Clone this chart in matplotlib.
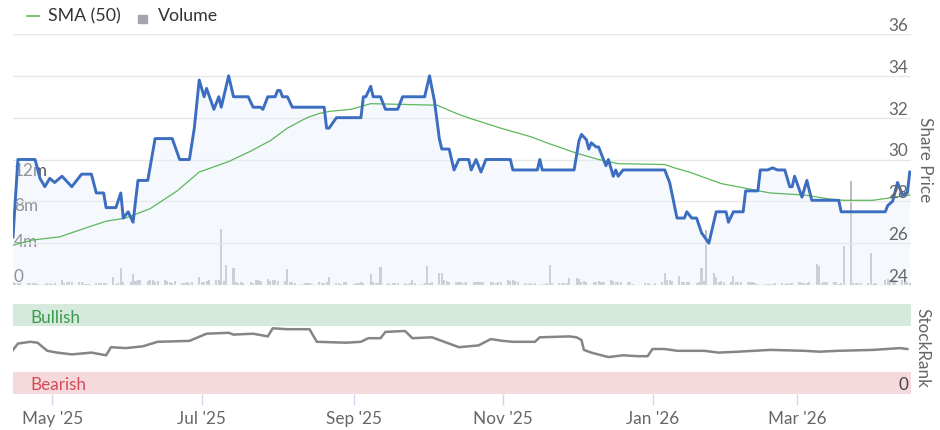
import matplotlib
matplotlib.use('Agg')
import matplotlib.pyplot as plt
import matplotlib.dates as mdates
import pandas as pd
from matplotlib.lines import Line2D
from matplotlib.patches import Rectangle

plt.rcParams['font.family'] = ['Lato', 'DejaVu Sans']

# share price, vertices of the line
price_dates = [
    '2025-04-15', '2025-04-17', '2025-04-24', '2025-04-26', '2025-04-28', '2025-04-30',
    '2025-05-02', '2025-05-05', '2025-05-09', '2025-05-13', '2025-05-17', '2025-05-19',
    '2025-05-22', '2025-05-23', '2025-05-27', '2025-05-29', '2025-05-30', '2025-06-01',
    '2025-06-03', '2025-06-05', '2025-06-09', '2025-06-12', '2025-06-19', '2025-06-22',
    '2025-06-26', '2025-06-28', '2025-06-30', '2025-07-02', '2025-07-03', '2025-07-06',
    '2025-07-08', '2025-07-09', '2025-07-12', '2025-07-14', '2025-07-20', '2025-07-22',
    '2025-07-25', '2025-07-26', '2025-07-28', '2025-07-31', '2025-08-01', '2025-08-02',
    '2025-08-03', '2025-08-05', '2025-08-07', '2025-08-20', '2025-08-21', '2025-08-22',
    '2025-08-25', '2025-09-04', '2025-09-05', '2025-09-06', '2025-09-08', '2025-09-09',
    '2025-09-12', '2025-09-14', '2025-09-19', '2025-09-21', '2025-09-30', '2025-10-02',
    '2025-10-04', '2025-10-06', '2025-10-07', '2025-10-10', '2025-10-12', '2025-10-14',
    '2025-10-18', '2025-10-19', '2025-10-21', '2025-10-23', '2025-10-25', '2025-11-04',
    '2025-11-05', '2025-11-15', '2025-11-16', '2025-11-17', '2025-11-30', '2025-12-02',
    '2025-12-03', '2025-12-05', '2025-12-06', '2025-12-07', '2025-12-09', '2025-12-10',
    '2025-12-13', '2025-12-14', '2025-12-16', '2025-12-17', '2025-12-18', '2025-12-20',
    '2026-01-06', '2026-01-08', '2026-01-11', '2026-01-14', '2026-01-15', '2026-01-17',
    '2026-01-19', '2026-01-21', '2026-01-24', '2026-01-27', '2026-01-31', '2026-02-01',
    '2026-02-03', '2026-02-07', '2026-02-08', '2026-02-13', '2026-02-14', '2026-02-17',
    '2026-02-19', '2026-02-21', '2026-02-24', '2026-02-26', '2026-02-27', '2026-02-28',
    '2026-03-03', '2026-03-05', '2026-03-07', '2026-03-18', '2026-03-19', '2026-04-06',
    '2026-04-07', '2026-04-09', '2026-04-11', '2026-04-13', '2026-04-15', '2026-04-16',
]
price_values = [
    26.3, 30.0, 30.0, 29.1, 28.7, 29.1,
    28.9, 29.2, 28.7, 29.3, 29.3, 28.4,
    28.4, 27.7, 27.7, 28.4, 27.2, 27.5,
    27.0, 29.0, 29.0, 31.0, 31.0, 30.0,
    30.0, 31.5, 33.8, 33.0, 33.4, 32.4,
    33.0, 32.5, 34.0, 33.0, 33.0, 32.5,
    32.5, 32.4, 33.0, 33.0, 33.3, 33.3,
    33.0, 33.0, 32.5, 32.5, 31.5, 31.5,
    32.0, 32.0, 33.0, 33.0, 33.5, 33.0,
    33.0, 32.4, 32.4, 33.0, 33.0, 34.0,
    32.8, 31.0, 30.5, 30.5, 29.5, 30.0,
    30.0, 29.5, 30.0, 29.4, 30.0, 30.0,
    29.5, 29.5, 30.0, 29.5, 29.5, 30.9,
    31.2, 30.95, 30.5, 30.8, 30.6, 30.6,
    29.7, 30.0, 29.2, 29.5, 29.2, 29.5,
    29.5, 28.9, 27.2, 27.2, 27.5, 27.2,
    27.2, 26.5, 26.0, 27.5, 27.5, 27.0,
    27.5, 27.5, 28.5, 28.5, 29.5, 29.5,
    29.6, 29.5, 29.5, 28.7, 28.7, 29.2,
    28.2, 29.0, 28.05, 28.05, 27.5, 27.5,
    27.8, 28.0, 28.9, 28.3, 28.4, 29.4,
]

# 50 day simple moving average
sma_dates = [
    '2025-04-15', '2025-04-23', '2025-05-04', '2025-05-14', '2025-05-23', '2025-05-31',
    '2025-06-10', '2025-06-21', '2025-06-30', '2025-07-12', '2025-07-21', '2025-07-29',
    '2025-08-05', '2025-08-13', '2025-08-18', '2025-08-22', '2025-08-31', '2025-09-08',
    '2025-10-03', '2025-10-05', '2025-10-13', '2025-10-19', '2025-10-31', '2025-11-12',
    '2025-11-20', '2025-12-01', '2025-12-10', '2025-12-18', '2026-01-06', '2026-01-10',
    '2026-01-16', '2026-01-29', '2026-02-09', '2026-02-18', '2026-03-04', '2026-03-15',
    '2026-03-20', '2026-04-01', '2026-04-13', '2026-04-16',
]
sma_values = [
    25.9, 26.15, 26.3, 26.7, 27.05, 27.2,
    27.65, 28.5, 29.4, 29.9, 30.4, 30.9,
    31.5, 32.0, 32.2, 32.3, 32.4, 32.67,
    32.6, 32.6, 32.2, 31.95, 31.5, 31.1,
    30.75, 30.3, 30.0, 29.8, 29.76, 29.6,
    29.4, 28.85, 28.6, 28.4, 28.3, 28.1,
    28.05, 28.05, 28.25, 28.3,
]

# daily volume (millions), one row per week starting Tue 15 Apr 2025
volume = [
    0.3, 0.2, 0.2, 0.2,
    0.2, 0.25, 0.2, 0.2, 0.15,
    0.15, 0.2, 0.2, 0.15, 0.2,
    0.56, 0.2, 0.3, 0.35, 0.3,
    0.3, 0.3, 0.1, 0.1, 0.15,
    0.2, 0.2, 0.2, 0.25, 0.2,
    0.9, 0.15, 0.2, 1.9, 0.35,
    0.3, 1.2, 0.5, 0.6, 0.6,
    0.5, 0.6, 0.55, 0.3, 0.5,
    0.55, 0.45, 0.3, 0.25, 0.5,
    0.2, 0.2, 0.3, 0.25, 0.3,
    0.9, 0.35, 0.3, 0.5, 0.55,
    0.55, 0.6, 6.3, 0.4, 2.2,
    1.9, 0.3, 0.25, 0.3, 0.2,
    0.3, 0.25, 0.55, 0.6, 0.45,
    0.65, 0.5, 0.6, 0.55, 0.5,
    0.5, 1.8, 0.3, 0.35, 0.2,
    0.1, 0.2, 0.25, 0.2, 0.15,
    0.3, 0.25, 0.2, 0.3, 0.9,
    0.2, 0.25, 0.15, 0.35, 0.3,
    0.15, 0.2, 0.25, 0.3, 0.2,
    1.2, 0.3, 0.2, 0.25, 2.0,
    0.2, 0.15, 0.2, 0.25, 0.2,
    0.2, 0.15, 0.2, 0.6, 0.2,
    0.15, 0.2, 2.1, 0.25, 0.3,
    1.3, 1.3, 0.6, 0.4, 0.35,
    0.35, 0.3, 0.3, 0.2, 0.35,
    0.3, 0.35, 0.35, 0.3, 0.35,
    0.3, 0.35, 0.2, 0.3, 0.35,
    0.55, 0.5, 0.55, 0.45, 0.3,
    0.2, 0.15, 0.2, 0.15, 0.2,
    0.1, 0.15, 0.2, 2.25, 0.2,
    0.2, 0.2, 0.2, 0.2, 0.75,
    0.75, 0.7, 0.35, 0.4, 0.35,
    0.3, 0.35, 0.4, 0.35, 0.3,
    0.55, 0.5, 0.3, 0.35, 0.35,
    0.3, 0.35, 0.1, 0.05, 0.05,
    0.2, 0.2, 0.1, 0.05, 0.2,
    0.35, 1.3, 0.55, 0.6, 0.5,
    1.05, 0.35, 0.3, 0.35, 0.3,
    0.2, 0.3, 1.9, 0.4, 6.2,
    1.3, 0.9, 0.35, 0.4, 0.35,
    0.3, 1.0, 0.35, 0.35, 0.3,
    0.35, 0.35, 0.3, 0.2, 0.1,
    0.15, 0.1, 0.1, 0.1, 0.2,
    0.2, 0.15, 0.2, 0.2, 0.2,
    0.35, 0.2, 0.25, 0.2, 0.3,
    2.4, 2.1, 0.2, 0.3, 0.3,
    0.3, 0.35, 0.1, 0.2, 4.4,
    11.7, 0.2, 0.2, 0.25, 0.2,
    0.2, 3.6, 0.1, 0.2, 0.05,
    0.6, 0.65, 0.6, 0.55, 0.6,
    0.6, 0.35, 0.3, 0.2,
]

# StockRank line
rank_dates = [
    '2025-04-15', '2025-04-17', '2025-04-22', '2025-04-25', '2025-04-29', '2025-05-03',
    '2025-05-09', '2025-05-17', '2025-05-23', '2025-05-25', '2025-05-31', '2025-06-07',
    '2025-06-13', '2025-06-26', '2025-07-03', '2025-07-12', '2025-07-14', '2025-07-22',
    '2025-07-28', '2025-07-30', '2025-08-05', '2025-08-14', '2025-08-17', '2025-08-29',
    '2025-09-04', '2025-09-07', '2025-09-12', '2025-09-14', '2025-09-22', '2025-09-25',
    '2025-10-03', '2025-10-08', '2025-10-14', '2025-10-18', '2025-10-22', '2025-10-27',
    '2025-11-01', '2025-11-05', '2025-11-14', '2025-11-16', '2025-11-28', '2025-12-01',
    '2025-12-03', '2025-12-04', '2025-12-07', '2025-12-14', '2025-12-20', '2025-12-26',
    '2025-12-30', '2026-01-01', '2026-01-06', '2026-01-11', '2026-01-22', '2026-01-28',
    '2026-02-05', '2026-02-18', '2026-03-04', '2026-03-10', '2026-03-18', '2026-04-01',
    '2026-04-12', '2026-04-15',
]
rank_values = [
    49, 56, 58, 57, 48, 46,
    44, 46, 43, 52, 51, 53,
    58, 59, 67, 68, 66, 67,
    64, 73, 72, 72, 58, 57,
    58, 62, 62, 69, 70, 62,
    63, 58, 52, 53, 54, 61,
    59, 58, 58, 63, 64, 63,
    60, 49, 46, 41, 43, 42,
    42, 50, 50, 48, 48, 46,
    47, 49, 48, 47, 48, 49,
    51, 50,
]

xmin, xmax = '2025-04-15', '2026-04-16 12:00'

W, H = 940, 430


def rect(x0, y0, x1, y1):
    return [x0 / W, 1 - y1 / H, (x1 - x0) / W, (y1 - y0) / H]


fig = plt.figure(figsize=(W / 100, H / 100), dpi=100)
ax = fig.add_axes(rect(13, 34, 911, 285))
axv = ax.twinx()
ax.set_zorder(2)
ax.patch.set_visible(False)
axr = fig.add_axes(rect(13, 304, 911, 394), sharex=ax)

pd_price = pd.to_datetime(price_dates)
pd_sma = pd.to_datetime(sma_dates)
vol_dates = pd.bdate_range('2025-04-15', periods=len(volume))

grey_txt = '#666666'
fs = 12.3

# volume bars behind
axv.bar(vol_dates, [v * 1e6 for v in volume], width=0.85, color='#b9bcc4', linewidth=0)
axv.set_ylim(0, 28.3e6)
for v in [0, 4, 8, 12]:
    axv.annotate('0' if v == 0 else f'{v}m', xy=(0, v * 1e6), xycoords=('axes fraction', 'data'),
                 xytext=(1, 3), textcoords='offset pixels', ha='left', va='baseline',
                 fontsize=fs, color='#555555')

# price panel
ax.fill_between(pd_price, price_values, 24, color='#e8eef8', alpha=0.4, linewidth=0)
ax.plot(pd_sma, sma_values, color='#5cb85c', linewidth=0.9)
ax.plot(pd_price, price_values, color='#3b6dc0', linewidth=2.1, solid_joinstyle='round')
ax.set_ylim(24, 36)
ax.set_xlim(pd.Timestamp(xmin), pd.Timestamp(xmax))
for p in range(24, 37, 2):
    ax.axhline(p, color='#e6e6e6', linewidth=1, zorder=0)
    ax.annotate(str(p), xy=(1, p), xycoords=('axes fraction', 'data'),
                xytext=(-3, 3), textcoords='offset pixels', ha='right', va='baseline',
                fontsize=fs, color=grey_txt)
for a in (ax, axv):
    a.set_yticks([])
    a.tick_params(bottom=False, labelbottom=False)
    for s in a.spines.values():
        s.set_visible(False)

# StockRank panel
axr.axhspan(0, 25, color='#f6d9dc', linewidth=0)
axr.axhspan(76, 100, color='#d5eadc', linewidth=0)
axr.plot(pd.to_datetime(rank_dates), rank_values, color='#858585', linewidth=1.8)
axr.set_ylim(0, 100)
axr.set_yticks([])
for s in axr.spines.values():
    s.set_visible(False)
axr.text(17 / 898, 84, 'Bullish', transform=axr.get_yaxis_transform(), color='#3a9a4c',
         fontsize=fs, va='center', ha='left')
axr.text(17 / 898, 10, 'Bearish', transform=axr.get_yaxis_transform(), color='#d44a57',
         fontsize=fs, va='center', ha='left')
axr.annotate('0', xy=(1, 0), xycoords=('axes fraction', 'data'), xytext=(-3, 4),
             textcoords='offset pixels', ha='right', va='baseline', fontsize=fs, color='#444444')
axr.xaxis.set_major_locator(mdates.MonthLocator(bymonth=[1, 3, 5, 7, 9, 11]))
axr.xaxis.set_major_formatter(mdates.DateFormatter("%b '%y"))
axr.tick_params(axis='x', length=8, width=1, color='#ccd6eb', labelcolor=grey_txt,
                labelsize=fs, pad=4)

fig.text(925 / W, 1 - 160 / H, 'Share Price', rotation=270, ha='center', va='center',
         fontsize=fs, color=grey_txt)
fig.text(922 / W, 1 - 348 / H, 'StockRank', rotation=270, ha='center', va='center',
         fontsize=fs, color=grey_txt)

# legend
fig.add_artist(Line2D([27 / W, 39 / W], [1 - 16 / H, 1 - 16 / H], color='#5cb85c', linewidth=1.2))
fig.text(48 / W, 1 - 16 / H, 'SMA (50)', fontsize=12.8, color='#333333', va='center', ha='left')
fig.add_artist(Rectangle((138 / W, 1 - 23 / H), 9 / W, 8 / H, color='#a2a5ad',
                         transform=fig.transFigure))
fig.text(158 / W, 1 - 16 / H, 'Volume', fontsize=12.8, color='#333333', va='center', ha='left')

fig.savefig('out.png', dpi=100)
